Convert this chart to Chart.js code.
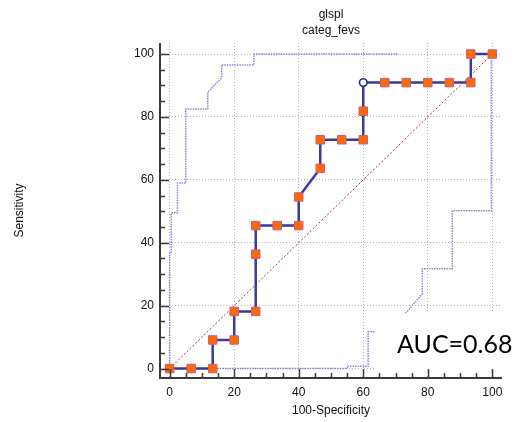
<!DOCTYPE html>
<html lang="en">
<head>
    <meta charset="UTF-8">
    <title>glspl ROC</title>
    <script src="https://cdn.jsdelivr.net/npm/chart.js"></script>
    <style>
        html, body { margin: 0; padding: 0; background: #fff; }
        #wrap { width: 518px; height: 422px; }
    </style>
</head>
<body>
    <div id="wrap"><canvas id="rocChart"></canvas></div>

    <script>
        // ROC curve (100-Specificity vs Sensitivity)
        const rocX = [0, 6.67, 13.33, 13.33, 20, 20, 26.67, 26.67, 26.67, 33.33, 40, 40, 46.67, 46.67, 53.33, 60, 60, 60, 66.67, 73.33, 80, 86.67, 93.33, 93.33, 100];
        const rocY = [0, 0, 0, 9.09, 9.09, 18.18, 18.18, 36.36, 45.45, 45.45, 45.45, 54.55, 63.64, 72.73, 72.73, 72.73, 81.82, 90.91, 90.91, 90.91, 90.91, 90.91, 90.91, 100, 100];
        const optimalIndex = 17;

        // confidence bounds
        const upperX = [0, 0, 0.5, 0.5, 2.4, 2.4, 5, 5, 11.8, 11.8, 16.1, 16.1, 26.1, 26.1, 71];
        const upperY = [0, 36.8, 36.8, 49.5, 49.5, 59, 59, 82.5, 82.5, 87.9, 92.4, 96.5, 96.5, 100, 100];
        const lowerX = [0, 55, 55, 61.5, 61.5, 63.4, 73.6, 78.3, 78.3, 87.6, 87.6, 99.7, 99.7];
        const lowerY = [0, 0, 0.7, 0.7, 11.7, 11.7, 18.1, 23.8, 31.7, 31.7, 50.2, 50.2, 100];

        const diagX = [0, 100];
        const diagY = [0, 100];

        const tickValues = [0, 20, 40, 60, 80, 100];
        const titleLines = ['glspl', 'categ_fevs'];
        const aucLabel = 'AUC=0.68';

        function pts(xs, ys) {
            return xs.map(function(x, i) { return {x: x, y: ys[i]}; });
        }

        const bandColor = 'rgba(95, 95, 200, 0.75)';

        // axes, ticks, titles and AUC box drawn by hand
        const decorPlugin = {
            id: 'decor',
            afterDatasetsDraw(chart) {
                const ctx = chart.ctx;
                ctx.save();
                ctx.fillStyle = '#fff';
                ctx.fillRect(375, 313, 143, 63);
                ctx.fillStyle = '#000';
                ctx.font = '25px Lato';
                ctx.textAlign = 'left';
                ctx.textBaseline = 'alphabetic';
                ctx.fillText(aucLabel, 397, 353);
                ctx.restore();
            },
            afterDraw(chart) {
                const ctx = chart.ctx;
                const a = chart.chartArea;
                const xs = chart.scales.x, ys = chart.scales.y;
                ctx.save();
                ctx.strokeStyle = '#3a3a3a';
                ctx.lineWidth = 2;
                ctx.beginPath();
                ctx.moveTo(a.left, a.top);
                ctx.lineTo(a.left, a.bottom);
                ctx.lineTo(a.right, a.bottom);
                ctx.stroke();
                ctx.lineWidth = 1.5;
                for (let v = 0; v <= 100; v += 5) {
                    const len = (v % 20 === 0) ? 9 : 5;
                    const px = Math.round(xs.getPixelForValue(v)) + 0.5;
                    const py = Math.round(ys.getPixelForValue(v)) + 0.5;
                    ctx.beginPath();
                    ctx.moveTo(px, a.bottom);
                    ctx.lineTo(px, a.bottom - len);
                    ctx.moveTo(a.left, py);
                    ctx.lineTo(a.left + len, py);
                    ctx.stroke();
                }
                ctx.fillStyle = '#111';
                ctx.font = '12px "Liberation Sans", Arial';
                ctx.textAlign = 'center';
                ctx.textBaseline = 'middle';
                ctx.fillText(titleLines[0], 331, 15);
                ctx.fillText(titleLines[1], 331, 31);
                ctx.restore();
            }
        };

        const ctx = document.getElementById('rocChart').getContext('2d');
        const rocChart = new Chart(ctx, {
            type: 'scatter',
            data: {
                datasets: [{
                    label: 'ROC',
                    data: pts(rocX, rocY),
                    showLine: true,
                    borderColor: '#3a3a9c',
                    borderWidth: 2.5,
                    pointStyle: rocX.map(function(v, i) { return i === optimalIndex ? 'circle' : 'rect'; }),
                    pointRadius: rocX.map(function(v, i) { return i === optimalIndex ? 3.8 : 6; }),
                    pointBackgroundColor: rocX.map(function(v, i) { return i === optimalIndex ? '#ffffff' : '#ff6a00'; }),
                    pointBorderColor: rocX.map(function(v, i) { return i === optimalIndex ? '#2a2a80' : '#c0608a'; }),
                    pointBorderWidth: rocX.map(function(v, i) { return i === optimalIndex ? 1.6 : 1; }),
                    order: 0
                }, {
                    label: 'Reference',
                    data: pts(diagX, diagY),
                    showLine: true,
                    borderColor: '#b03030',
                    borderWidth: 1,
                    borderDash: [2, 2],
                    pointRadius: 0,
                    order: 1
                }, {
                    label: 'Upper',
                    data: pts(upperX, upperY),
                    showLine: true,
                    borderColor: bandColor,
                    borderWidth: 1.5,
                    borderDash: [1.5, 1],
                    pointRadius: 0,
                    order: 2
                }, {
                    label: 'Lower',
                    data: pts(lowerX, lowerY),
                    showLine: true,
                    borderColor: bandColor,
                    borderWidth: 1.5,
                    borderDash: [1.5, 1],
                    pointRadius: 0,
                    order: 3
                }]
            },
            options: {
                responsive: true,
                maintainAspectRatio: false,
                animation: false,
                layout: { padding: { top: 43, right: 16, left: 0, bottom: 0 } },
                plugins: {
                    legend: { display: false },
                    tooltip: { enabled: false }
                },
                scales: {
                    x: {
                        type: 'linear',
                        min: -3,
                        max: 103,
                        afterBuildTicks: function(scale) {
                            scale.ticks = tickValues.map(function(v) { return {value: v}; });
                        },
                        afterFit: function(scale) { scale.height = 44; },
                        grid: { color: '#b5b5b5', lineWidth: 1, drawTicks: false },
                        border: { display: false, dash: [1, 2] },
                        ticks: {
                            padding: 7,
                            color: '#111',
                            font: { family: '"Liberation Sans", Arial', size: 12 }
                        },
                        title: {
                            display: true,
                            text: '100-Specificity',
                            color: '#111',
                            padding: { top: 0, bottom: 4 },
                            font: { family: '"Liberation Sans", Arial', size: 12 }
                        }
                    },
                    y: {
                        type: 'linear',
                        min: -3,
                        max: 103.5,
                        afterBuildTicks: function(scale) {
                            scale.ticks = tickValues.map(function(v) { return {value: v}; });
                        },
                        afterFit: function(scale) { scale.width = 160; },
                        grid: { color: '#b5b5b5', lineWidth: 1, drawTicks: false },
                        border: { display: false, dash: [1, 2] },
                        ticks: {
                            padding: 6,
                            color: '#111',
                            font: { family: '"Liberation Sans", Arial', size: 12 }
                        },
                        title: {
                            display: true,
                            text: 'Sensitivity',
                            color: '#111',
                            padding: { top: 12, bottom: 0 },
                            font: { family: '"Liberation Sans", Arial', size: 12 }
                        }
                    }
                }
            },
            plugins: [decorPlugin]
        });
    </script>
</body>
</html>
